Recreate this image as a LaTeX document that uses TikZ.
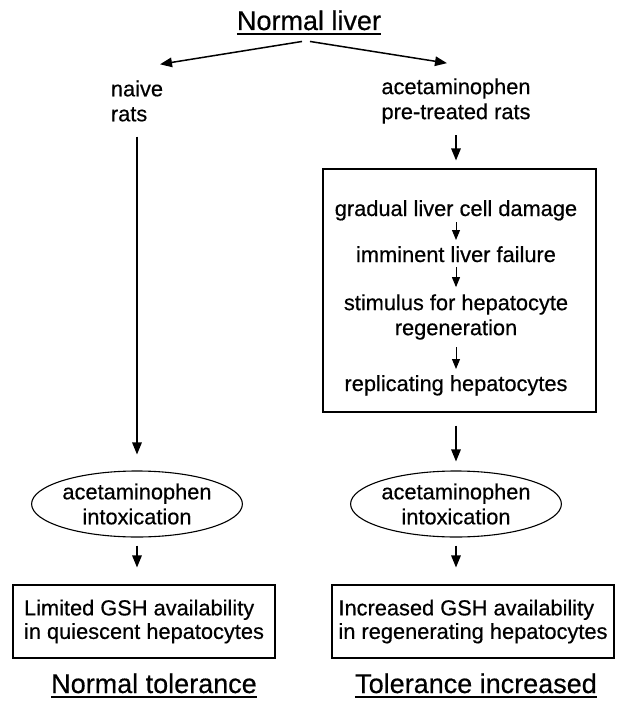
\documentclass[tikz,border=0pt]{standalone}
\usepackage{fontspec}
\setmainfont[FakeBold=0.5]{Liberation Sans}
\usetikzlibrary{arrows.meta,shapes.geometric,calc}
\begin{document}
\begin{tikzpicture}[x=1pt,y=-1pt,
  txt/.style={inner sep=0pt, font=\fontsize{21.8}{25}\selectfont},
  head/.style={inner sep=0pt, font=\fontsize{27}{30}\selectfont},
  arr/.style={line width=1.5pt, -{Triangle[length=12pt,width=9.5pt]}},
  sarr/.style={line width=1pt, -{Triangle[length=10pt,width=8pt]}},
  frame/.style={draw, line width=1.1pt},
  result/.style={frame, inner sep=0pt, align=left, font=\fontsize{21.8}{23.5}\selectfont},
  oval/.style={draw, ellipse, line width=1.1pt, inner sep=0pt,
    minimum width=194pt, minimum height=66pt, align=center,
    font=\fontsize{21.8}{25}\selectfont},
  uline/.style={line width=1.6pt}
]
\useasboundingbox (0,0) rectangle (618,701);

% title and the two groups of rats
\node[head, anchor=base] (liver) at (309,30) {Normal liver};
\draw[uline] ([yshift=-4pt]liver.base west) -- ([yshift=-4pt]liver.base east);

\node[txt, align=left] (naive) at (137,101) {naive\\rats};
\node[txt, align=center] (pre) at (456,101) {acetaminophen\\pre-treated rats};

\draw[arr] ([xshift=-7pt,yshift=-11pt]liver.south) -- ([xshift=23pt,yshift=16pt]naive.north);
\draw[arr] ([xshift=1pt,yshift=-11pt]liver.south) -- ([xshift=-9pt,yshift=15pt]pre.north);

% sequence of events after pre-treatment
\node[frame, minimum width=273pt, minimum height=243pt] (chain) at (459.5,290.5) {};
\node[txt, anchor=base] (s1) at (456,216) {gradual liver cell damage};
\node[txt, anchor=base] (s2) at (456,262) {imminent liver failure};
\node[txt, align=center] (s3) at (456,317) {stimulus for hepatocyte\\regeneration};
\node[txt, anchor=base] (s4) at (456,391) {replicating hepatocytes};

\draw[sarr, shorten <=1.5pt, shorten >=6pt] (s1) -- (s2);
\draw[sarr, shorten <=5pt, shorten >=7pt] (s2) -- (s3);
\draw[sarr, shorten <=7.5pt, shorten >=6pt] (s3) -- (s4);

\draw[arr, shorten <=11.5pt, shorten >=8pt] (pre.south) -- (pre.south |- chain.north);

% intoxication
\node[oval] (ellL) at (137,504) {acetaminophen\\intoxication};
\node[oval] (ellR) at (456,504) {acetaminophen\\intoxication};

\draw[arr, shorten <=15pt, shorten >=16pt] (naive.south) -- (naive.south |- ellL.north);
\draw[arr, shorten <=13pt, shorten >=9pt] (chain.south -| ellR.north) -- (ellR.north);

% outcomes
\node[result, minimum width=262pt, minimum height=73pt] (resL) at (144,621.5)
  {Limited GSH availability\\in quiescent hepatocytes};
\node[result, minimum width=282pt, minimum height=73pt] (resR) at (473,621.5)
  {Increased GSH availability\\in regenerating hepatocytes};

\draw[arr, shorten <=8pt, shorten >=17pt] (ellL.south) -- (ellL.south |- resL.north);
\draw[arr, shorten <=8pt, shorten >=17pt] (ellR.south) -- (ellR.south |- resR.north);

\node[head, anchor=base] (tolL) at (154,693) {Normal tolerance};
\draw[uline] ([yshift=-4pt]tolL.base west) -- ([yshift=-4pt]tolL.base east);
\node[head, anchor=base] (tolR) at (476,693) {Tolerance increased};
\draw[uline] ([yshift=-4pt]tolR.base west) -- ([yshift=-4pt]tolR.base east);
\end{tikzpicture}
\end{document}
